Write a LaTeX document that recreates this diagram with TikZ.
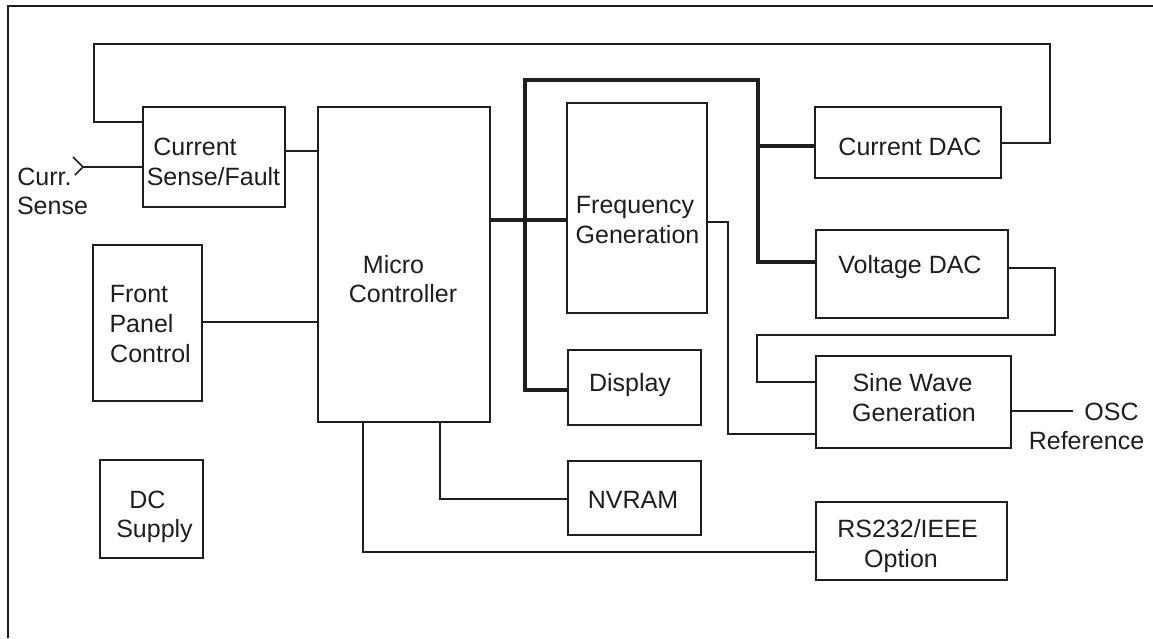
\documentclass[tikz,border=0pt]{standalone}
\usepackage{fontspec}
\setmainfont{Liberation Sans}
\usetikzlibrary{fit}
\definecolor{ink}{HTML}{1E1E1E}
\begin{document}
\begin{tikzpicture}[x=1pt,y=-1pt,
  box/.style={draw=ink, line width=1.5pt, inner sep=0pt},
  wire/.style={draw=ink, line width=1.5pt},
  bus/.style={draw=ink, line width=4.2pt, line join=miter},
  lbl/.style={inner sep=0pt, anchor=base, text=ink, font=\fontsize{25}{30}\selectfont}]
\useasboundingbox (0,0) rectangle (1153,638);
% outer frame
\draw[wire] (8,638) -- (8,6) -- (1153,6);
% boxes
\node[box, fit={(143,107) (285,207)}] (cs) {};
\node[box, fit={(318,107) (490,422)}] (mc) {};
\node[box, fit={(93,245) (202,401)}] (fp) {};
\node[box, fit={(100,460) (203,558)}] (dc) {};
\node[box, fit={(567,103) (707,313)}] (fg) {};
\node[box, fit={(568,350) (701,425)}] (disp) {};
\node[box, fit={(568,461) (701,535)}] (nv) {};
\node[box, fit={(815,107) (1001,178)}] (cdac) {};
\node[box, fit={(816,230) (1008,318)}] (vdac) {};
\node[box, fit={(816,356) (1011,448)}] (sw) {};
\node[box, fit={(816,502) (1007,580)}] (rs) {};
% texts
\node[lbl] (t-cs1) at (195,155) {Current};
\node[lbl] (t-cs2) at (213.5,185) {Sense/Fault};
\node[lbl] (t-in1) at (44.5,185) {Curr.};
\node[lbl] (t-in2) at (52.5,214) {Sense};
\node[lbl] (t-mc1) at (393.5,273) {Micro};
\node[lbl] (t-mc2) at (403,302) {Controller};
\node[lbl] (t-fg1) at (635,213) {Frequency};
\node[lbl] (t-fg2) at (637.5,243) {Generation};
\node[lbl] (t-cd) at (910,155) {Current DAC};
\node[lbl] (t-vd) at (910,273) {Voltage DAC};
\node[lbl] (t-sw1) at (912.5,391) {Sine Wave};
\node[lbl] (t-sw2) at (914,421) {Generation};
\node[lbl] (t-osc1) at (1111.5,420) {OSC};
\node[lbl] (t-osc2) at (1086.5,449) {Reference};
\node[lbl] (t-dp) at (630,391) {Display};
\node[lbl] (t-nv) at (633,508) {NVRAM};
\node[lbl] (t-rs1) at (907.5,537) {RS232/IEEE};
\node[lbl] (t-rs2) at (901,567) {Option};
\node[lbl] (t-fp1) at (139,302) {Front};
\node[lbl] (t-fp2) at (141.5,332) {Panel};
\node[lbl] (t-fp3) at (150.5,362) {Control};
\node[lbl] (t-dc1) at (147.5,508) {DC};
\node[lbl] (t-dc2) at (154.5,537) {Supply};
% coordinates
\coordinate (inp) at (83,167);
\coordinate (osc) at (1073,411);
\coordinate (fb1) at (1050,44);
\coordinate (fb2) at (94,122);
\coordinate (b1) at (525,390);
\coordinate (b2) at (525,80);
\coordinate (b3) at (758,80);
\coordinate (b4) at (758,262);
\coordinate (b5) at (758,146);
\coordinate (f1) at (728,222);
\coordinate (f2) at (728,434);
\coordinate (v1) at (1055,268);
\coordinate (v2) at (1055,335);
\coordinate (v3) at (757,335);
\coordinate (v4) at (757,382);
\coordinate (n1) at (440,499);
\coordinate (r1) at (363,552);
% connectors
\draw[wire] (cdac.east |- 0,143) -| (fb1) -| (fb2) -- (cs.west |- fb2);
\draw[wire] (73,157) -- (inp) -- (75,175);
\draw[wire] (inp) -- (cs.west |- inp);
\draw[wire] (cs.east |- 0,151) -- (mc.west |- 0,151);
\draw[wire] (fp.east |- 0,322) -- (mc.west |- 0,322);
\draw[bus] (mc.east |- 0,220) -- (fg.west |- 0,220);
\draw[bus] (disp.west |- b1) -- (b1) -- (b2) -- (b3) -- (b4) -- (vdac.west |- b4);
\draw[bus] (b5) -- (cdac.west |- b5);
\draw[wire] (fg.east |- f1) -- (f1) -- (f2) -- (sw.west |- f2);
\draw[wire] (vdac.east |- v1) -- (v1) -- (v2) -- (v3) -- (v4) -- (sw.west |- v4);
\draw[wire] (sw.east |- osc) -- (osc);
\draw[wire] (mc.south -| n1) -- (n1) -- (nv.west |- n1);
\draw[wire] (mc.south -| r1) -- (r1) -- (rs.west |- r1);
\end{tikzpicture}
\end{document}
